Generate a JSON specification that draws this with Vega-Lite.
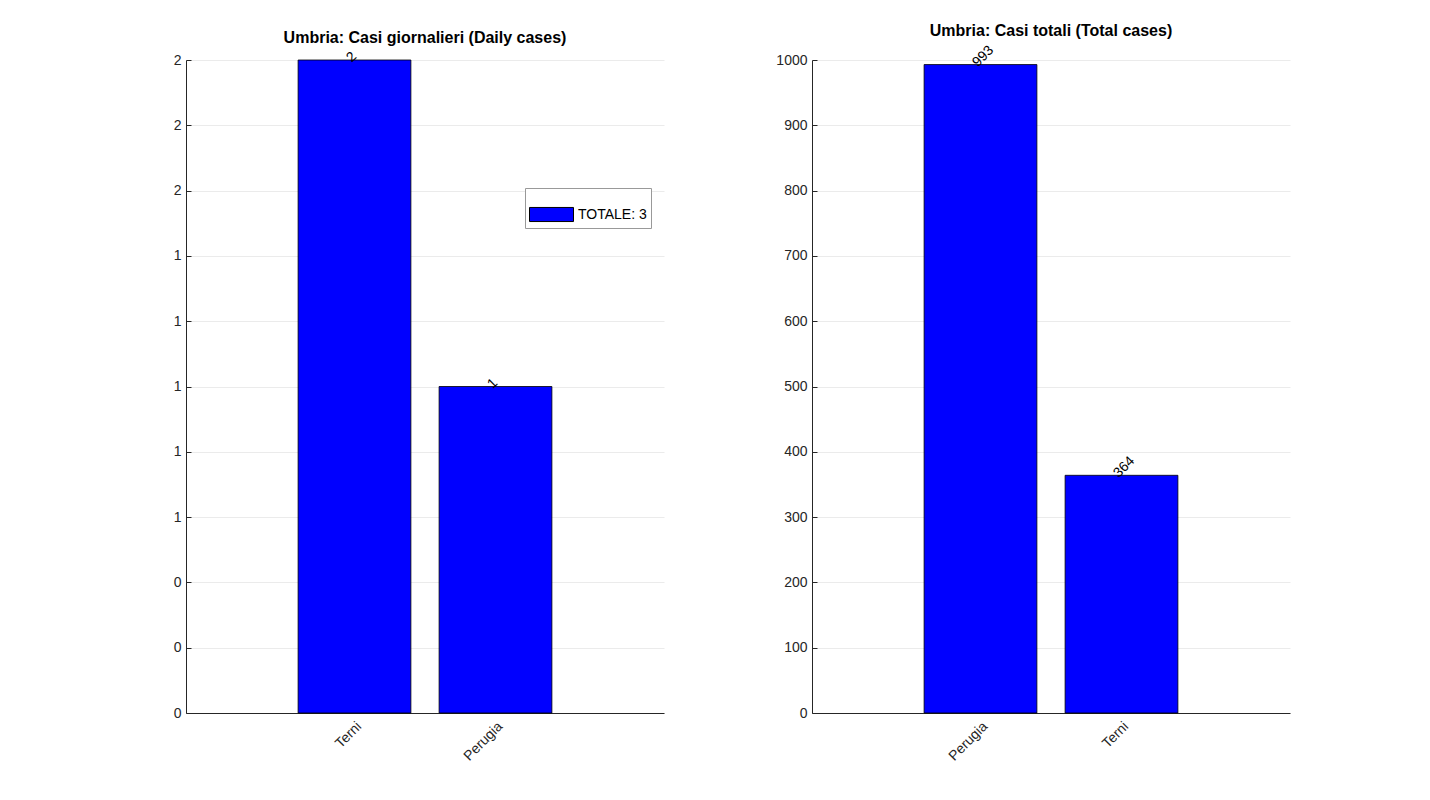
{
"$schema":"https://vega.github.io/schema/vega-lite/v6.json",
"background":"white",
"padding":{"left":173,"top":23,"right":10,"bottom":10},
"spacing":111,
"config":{"font":"Liberation Sans","view":{"stroke":null},
"axis":{"labelFontSize":14,"labelColor":"#262626","domainColor":"#262626","tickColor":"#262626","gridColor":"#ebebeb","labelFont":"Liberation Sans"},
"title":{"fontSize":16,"fontWeight":"bold","font":"Liberation Sans","color":"black","offset":4},
"legend":{"orient":"none","fillColor":"white","strokeColor":"#999","padding":4,"labelFontSize":14,"labelColor":"black","symbolType":"M-1,-0.32H1V0.32H-1Z","symbolSize":1936,"symbolStrokeColor":"black","symbolStrokeWidth":1,"symbolFillColor":"blue","symbolOpacity":1,"title":null}},
"resolve":{"scale":{"color":"independent","fill":"independent"},"legend":{"color":"independent","fill":"independent"}},
"hconcat":[
{"width":478,"height":653,
"title":"Umbria: Casi giornalieri (Daily cases)",
"data":{"values":[{"prov":"Terni","v":2,"leg":"TOTALE: 3"},{"prov":"Perugia","v":1,"leg":"TOTALE: 3"}]},
"encoding":{"x":{"field":"prov","type":"nominal","sort":null,"title":null,"scale":{"paddingInner":0.2,"paddingOuter":0.795},"axis":{"labelAngle":-45,"labelAlign":"right","labelBaseline":"top","grid":false,"ticks":false,"labelPadding":6}},
"y":{"field":"v","type":"quantitative","title":null,"scale":{"domain":[0,2],"nice":false},"axis":{"values":[0,0.2,0.4,0.6,0.8,1,1.2,1.4,1.6,1.8,2],"format":".0f","tickSize":-5,"labelPadding":10}}},
"layer":[
{"mark":{"type":"bar","stroke":"black","strokeWidth":0.8},"encoding":{"fill":{"field":"leg","type":"nominal","scale":{"range":["blue"]},"legend":{"legendX":339,"legendY":128}}}},
{"mark":{"type":"text","angle":-45,"align":"left","baseline":"middle","dx":-4,"dy":-4,"fontSize":14},"encoding":{"text":{"field":"v"}}}
]},
{"width":478,"height":653,
"title":"Umbria: Casi totali (Total cases)",
"data":{"values":[{"prov":"Perugia","v":993,"leg":"TOTALE: 1357"},{"prov":"Terni","v":364,"leg":"TOTALE: 1357"}]},
"encoding":{"x":{"field":"prov","type":"nominal","sort":null,"title":null,"scale":{"paddingInner":0.2,"paddingOuter":0.795},"axis":{"labelAngle":-45,"labelAlign":"right","labelBaseline":"top","grid":false,"ticks":false,"labelPadding":6}},
"y":{"field":"v","type":"quantitative","title":null,"scale":{"domain":[0,1000],"nice":false},"axis":{"values":[0,100,200,300,400,500,600,700,800,900,1000],"format":"d","tickSize":-5,"labelPadding":10}}},
"layer":[
{"mark":{"type":"bar","stroke":"black","strokeWidth":0.8,"opacity":1},"encoding":{"color":{"field":"leg","type":"nominal","scale":{"range":["blue"]},"legend":{"legendX":918,"legendY":173}}}},
{"mark":{"type":"text","angle":-45,"align":"left","baseline":"middle","dx":-4,"dy":-4,"fontSize":14,"color":"black"},"encoding":{"text":{"field":"v"}}}
]}
]}
